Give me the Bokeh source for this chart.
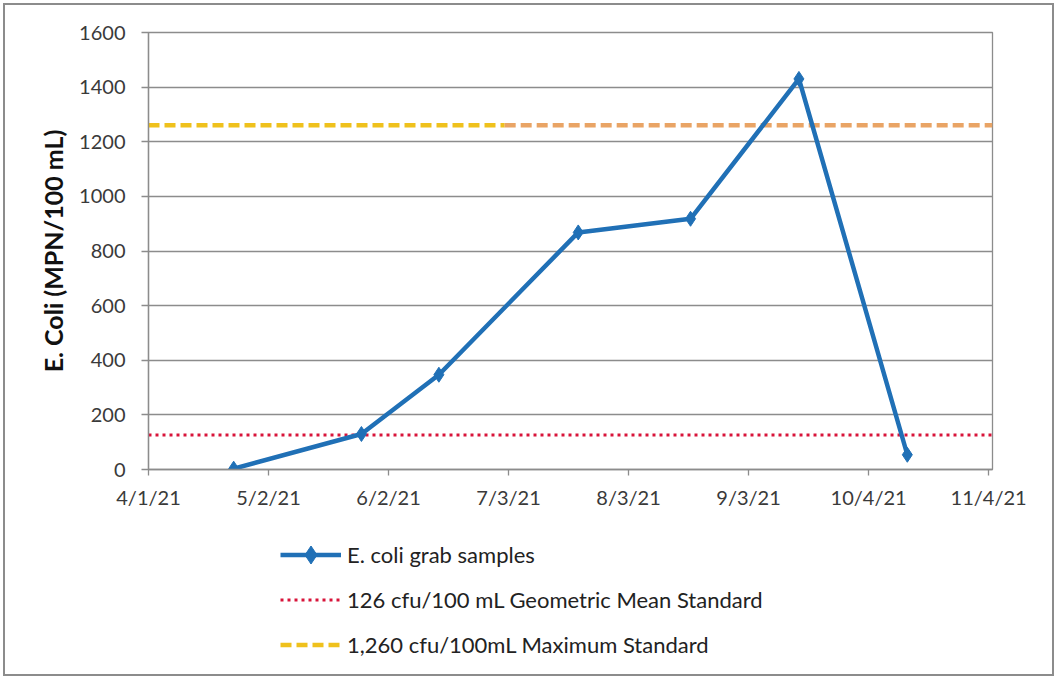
import datetime as dt
from bokeh.plotting import figure
from bokeh.layouts import column
from bokeh.models import (Range1d, FixedTicker, Legend, LegendItem, NumeralTickFormatter)
from bokeh.embed import file_html
from bokeh.resources import INLINE

# ---- data ----
sample_dates = ["2021-04-23", "2021-05-26", "2021-06-15", "2021-07-21",
                "2021-08-19", "2021-09-16", "2021-10-14"]
ecoli_values = [3, 130, 347, 868, 918, 1430, 54]

geo_mean_std = 126
max_std = 1260
std_dates = ["2021-04-01", "2021-07-02", "2021-11-05"]

x_tick_dates = ["2021-04-01", "2021-05-02", "2021-06-02", "2021-07-03",
                "2021-08-03", "2021-09-03", "2021-10-04", "2021-11-04"]
x_tick_labels = ["4/1/21", "5/2/21", "6/2/21", "7/3/21",
                 "8/3/21", "9/3/21", "10/4/21", "11/4/21"]
y_ticks = [0, 200, 400, 600, 800, 1000, 1200, 1400, 1600]

series_names = ["E. coli grab samples",
                "126 cfu/100 mL Geometric Mean Standard",
                "1,260 cfu/100mL Maximum Standard"]


def to_dt(s):
    return dt.datetime.strptime(s, "%Y-%m-%d")


def to_ms(s):
    return (to_dt(s) - dt.datetime(1970, 1, 1)).total_seconds() * 1000.0


xs = [to_dt(d) for d in sample_dates]
sd = [to_dt(d) for d in std_dates]
geo_ys = [geo_mean_std, geo_mean_std]
max_ys = [max_std, max_std]

FONT = "Lato"
GRID = "#8c8c8c"
BLUE = "#2070B6"
RED = "#D8143A"
YELLOW = "#EFC11C"
ORANGE = "#E9A465"

W = 1057
H_MAIN = 520
H_LEG = 159

p = figure(width=W, height=H_MAIN, x_axis_type="datetime",
           output_backend="svg", toolbar_location=None,
           x_range=Range1d(sd[0], sd[-1]), y_range=Range1d(0, 1600),
           min_border_left=148, min_border_right=65, min_border_top=32,
           min_border_bottom=H_MAIN - 469)
p.border_fill_color = None
p.background_fill_color = None

p.outline_line_color = GRID
p.outline_line_width = 1.3
p.xgrid.visible = False
p.ygrid.grid_line_color = GRID
p.ygrid.grid_line_width = 1.3
p.ygrid.ticker = FixedTicker(ticks=y_ticks)

# x axis
p.xaxis.ticker = FixedTicker(ticks=[to_ms(d) for d in x_tick_dates])
p.xaxis.major_label_overrides = {to_ms(d): l for d, l in zip(x_tick_dates, x_tick_labels)}
p.xaxis.minor_tick_line_color = None
p.xaxis.major_tick_in = 0
p.xaxis.major_tick_out = 6
p.xaxis.major_label_standoff = 9
# y axis
p.yaxis.ticker = FixedTicker(ticks=y_ticks)
p.yaxis.formatter = NumeralTickFormatter(format="0")
p.yaxis.minor_tick_line_color = None
p.yaxis.major_tick_in = 0
p.yaxis.major_tick_out = 7
p.yaxis.major_label_standoff = 16
p.yaxis.axis_label = "E. Coli (MPN/100 mL)"
p.yaxis.axis_label_standoff = 8
p.yaxis.axis_label_text_font = FONT
p.yaxis.axis_label_text_font_style = "bold"
p.yaxis.axis_label_text_font_size = "25px"
p.yaxis.axis_label_text_color = "#111111"

for ax in (p.xaxis, p.yaxis):
    ax.axis_line_color = GRID
    ax.axis_line_width = 1.3
    ax.major_tick_line_color = GRID
    ax.major_tick_line_width = 1.3
    ax.major_label_text_font = FONT
    ax.major_label_text_font_size = "20px"
    ax.major_label_text_color = "#3a3a3a"

# standards
geo_style = dict(line_color=RED, line_width=3, line_dash="3 4")
max_style = dict(line_width=4.5, line_dash="11 5")
p.line([sd[0], sd[-1]], geo_ys, **geo_style)
p.line(sd[:2], max_ys, line_color=YELLOW, **max_style)
p.line(sd[1:], max_ys, line_color=ORANGE, **max_style)

# samples
p.line(xs, ecoli_values, line_color=BLUE, line_width=4.5)
p.scatter(xs, ecoli_values, marker="diamond", size=15,
          fill_color=BLUE, line_color=BLUE)

# ---- legend panel (separate figure below the chart; its data lies off-view) ----
q = figure(width=W, height=H_LEG, output_backend="svg", toolbar_location=None,
           x_range=Range1d(0, 1), y_range=Range1d(-1, 0),
           x_axis_location=None, y_axis_location=None,
           min_border=0, min_border_left=0, min_border_right=0,
           min_border_top=0, min_border_bottom=0)
q.border_fill_color = None
q.background_fill_color = None
q.outline_line_color = None
q.xgrid.visible = False
q.ygrid.visible = False
lg_line = q.line(xs, ecoli_values, line_color=BLUE, line_width=4.5)
lg_pts = q.scatter(xs, ecoli_values, marker="diamond", size=15,
                   fill_color=BLUE, line_color=BLUE)
lg_geo = q.line([sd[0], sd[-1]], geo_ys, **geo_style)
lg_max = q.line(sd[:2], max_ys, line_color=YELLOW, **max_style)

legend = Legend(items=[
    LegendItem(label=series_names[0], renderers=[lg_line, lg_pts]),
    LegendItem(label=series_names[1], renderers=[lg_geo]),
    LegendItem(label=series_names[2], renderers=[lg_max]),
], location=(132, 12), orientation="vertical")
legend.border_line_color = None
legend.background_fill_alpha = 0
legend.padding = 0
legend.margin = 0
legend.spacing = 0
legend.glyph_width = 61
legend.glyph_height = 45
legend.label_height = 45
legend.label_standoff = 6
legend.label_text_font = FONT
legend.label_text_font_size = "22px"
legend.label_text_color = "#222222"
legend.label_text_baseline = "middle"
q.add_layout(legend, "center")

layout = column(p, q, spacing=0)
layout.styles = {"outline": "2px solid #8c8c8c", "outline-offset": "-5px",
                 "background-color": "white"}

open("out.html", "w").write(file_html(layout, INLINE))
